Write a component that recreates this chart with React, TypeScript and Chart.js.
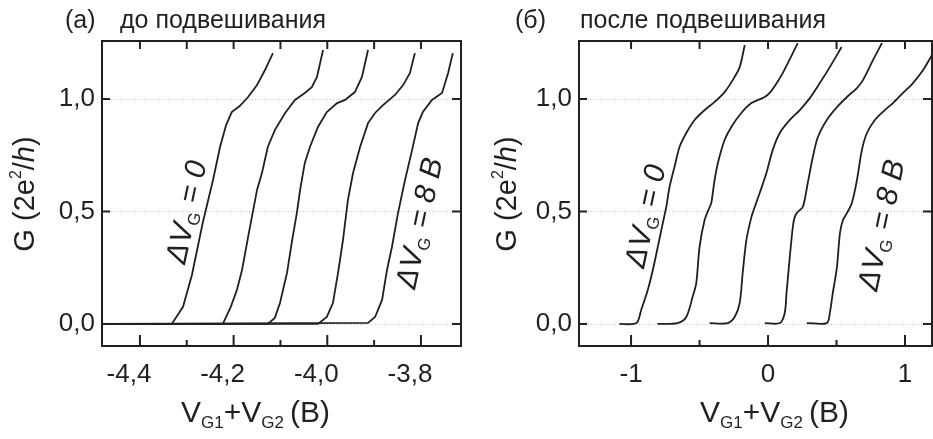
import React, { useEffect, useRef } from 'react';
import { Chart, registerables } from 'chart.js';

Chart.register(...registerables);

// ---------- data: panel (а) до подвешивания ----------
const A1_X = [-4.48, -4.332, -4.308, -4.289, -4.266, -4.244, -4.229, -4.216, -4.204, -4.187, -4.169, -4.150, -4.133, -4.116];
const A1_Y = [0, 0, 0.076, 0.218, 0.449, 0.640, 0.787, 0.884, 0.942, 0.969, 1.009, 1.062, 1.129, 1.204];
const A2_X = [-4.48, -4.223, -4.206, -4.193, -4.182, -4.169, -4.150, -4.1395, -4.127, -4.112, -4.090, -4.069, -4.048, -4.033, -4.022, -4.009];
const A2_Y = [0, 0, 0.076, 0.151, 0.240, 0.387, 0.596, 0.671, 0.787, 0.862, 0.938, 0.996, 1.027, 1.053, 1.098, 1.218];
const A3_X = [-4.48, -4.127, -4.112, -4.101, -4.086, -4.075, -4.065, -4.058, -4.048, -4.037, -4.020, -4.001, -3.979, -3.962, -3.941, -3.926, -3.913];
const A3_Y = [0, 0, 0.027, 0.093, 0.227, 0.373, 0.493, 0.596, 0.716, 0.787, 0.876, 0.942, 0.982, 0.996, 1.031, 1.098, 1.218];
const A4_X = [-4.48, -4.020, -4.001, -3.988, -3.977, -3.9665, -3.956, -3.945, -3.930, -3.913, -3.898, -3.881, -3.8555, -3.838, -3.8235, -3.813];
const A4_Y = [0, 0, 0.031, 0.093, 0.227, 0.373, 0.551, 0.671, 0.787, 0.893, 0.938, 0.973, 1.018, 1.062, 1.116, 1.204];
const A5_X = [-4.48, -3.913, -3.898, -3.883, -3.8725, -3.862, -3.849, -3.834, -3.819, -3.806, -3.796, -3.7765, -3.755, -3.742, -3.732];
const A5_Y = [0, 0.005, 0.031, 0.107, 0.240, 0.342, 0.493, 0.640, 0.773, 0.893, 0.942, 0.996, 1.027, 1.116, 1.204];

// ---------- data: panel (б) после подвешивания ----------
const B1_X = [-1.085, -0.961, -0.926, -0.878, -0.841, -0.805, -0.768, -0.743, -0.719, -0.683, -0.646, -0.597, -0.536, -0.463, -0.390, -0.317, -0.258, -0.207, -0.170];
const B1_Y = [0, 0.004, 0.062, 0.151, 0.240, 0.342, 0.449, 0.520, 0.609, 0.698, 0.787, 0.849, 0.907, 0.951, 0.987, 1.031, 1.084, 1.142, 1.240];
const B2_X = [-0.807, -0.661, -0.597, -0.551, -0.524, -0.500, -0.463, -0.426, -0.414, -0.390, -0.366, -0.317, -0.268, -0.195, -0.121, -0.024, 0.012, 0.064, 0.108, 0.181, 0.217];
const B2_Y = [0, 0.004, 0.031, 0.120, 0.182, 0.342, 0.462, 0.520, 0.538, 0.640, 0.716, 0.818, 0.876, 0.938, 0.982, 1.009, 1.027, 1.071, 1.116, 1.204, 1.249];
const B3_X = [-0.4265, -0.295, -0.244, -0.207, -0.185, -0.158, -0.121, -0.097, -0.061, -0.012, 0.034, 0.086, 0.159, 0.232, 0.305, 0.378, 0.451, 0.537];
const B3_Y = [0.004, 0.004, 0.031, 0.093, 0.227, 0.373, 0.476, 0.520, 0.582, 0.671, 0.773, 0.849, 0.907, 0.951, 1.004, 1.071, 1.142, 1.231];
const B4_X = [-0.024, 0.086, 0.122, 0.135, 0.159, 0.181, 0.195, 0.217, 0.254, 0.290, 0.327, 0.364, 0.429, 0.503, 0.576, 0.649, 0.693, 0.766, 0.832];
const B4_Y = [0.004, 0.004, 0.049, 0.138, 0.298, 0.431, 0.476, 0.498, 0.520, 0.627, 0.742, 0.831, 0.907, 0.964, 1.009, 1.049, 1.084, 1.173, 1.249];
const B5_X = [0.283, 0.429, 0.451, 0.473, 0.503, 0.525, 0.547, 0.576, 0.612, 0.649, 0.685, 0.722, 0.780, 0.853, 0.912, 0.985, 1.058, 1.132, 1.197];
const B5_Y = [0.004, 0.004, 0.049, 0.138, 0.253, 0.404, 0.462, 0.493, 0.538, 0.640, 0.773, 0.849, 0.907, 0.951, 0.982, 1.027, 1.071, 1.129, 1.196];

// ---------- ticks ----------
const A_X_TICKS = [-4.4, -4.2, -4.0, -3.8];
const A_X_LABELS = ['-4,4', '-4,2', '-4,0', '-3,8'];
const A_X_MINOR = [-4.3, -4.1, -3.9];
const B_X_TICKS = [-1, 0, 1];
const B_X_LABELS = ['-1', '0', '1'];
const B_X_MINOR = [-0.5, 0.5];
const Y_TICKS = [0, 0.5, 1.0];
const Y_LABELS = ['0,0', '0,5', '1,0'];

const FONT = '"Liberation Sans", Arial, Helvetica, sans-serif';
const INK = '#231f20';

type Part = { t: string; size: number; italic?: boolean; dy?: number };

function fontOf(p: Part) {
  return `${p.italic ? 'italic ' : ''}${p.size}px ${FONT}`;
}
function partsWidth(ctx: CanvasRenderingContext2D, parts: Part[]) {
  let w = 0;
  for (const p of parts) {
    ctx.font = fontOf(p);
    w += ctx.measureText(p.t).width;
  }
  return w;
}
function drawParts(ctx: CanvasRenderingContext2D, parts: Part[], x: number, y: number) {
  let cx = x;
  ctx.textBaseline = 'alphabetic';
  ctx.textAlign = 'left';
  for (const p of parts) {
    ctx.font = fontOf(p);
    ctx.fillText(p.t, cx, y + (p.dy || 0));
    cx += ctx.measureText(p.t).width;
  }
}

type PanelCfg = {
  offsetX: number;
  width: number;
  yAxisWidth: number;
  padRight: number;
  xMin: number;
  xMax: number;
  xTicks: number[];
  xLabels: string[];
  xMinor: number[];
  labelOffset: number;
  series: [number[], number[]][];
  tension: number;
  label: string;
  labelX: number;
  heading: string;
  headingX: number;
  yTitleX: number;
  xTitleX: number;
  annots: { cx: number; cy: number; tail: string }[];
};

const PANELS: PanelCfg[] = [
  {
    offsetX: 0,
    width: 470,
    yAxisWidth: 102,
    padRight: 9,
    xMin: -4.481,
    xMax: -3.7145,
    xTicks: A_X_TICKS,
    xLabels: A_X_LABELS,
    xMinor: A_X_MINOR,
    labelOffset: -11,
    series: [[A1_X, A1_Y], [A2_X, A2_Y], [A3_X, A3_Y], [A4_X, A4_Y], [A5_X, A5_Y]],
    tension: 0,
    label: '(а)',
    labelX: 65,
    heading: 'до подвешивания',
    headingX: 120,
    yTitleX: 34,
    xTitleX: 181,
    annots: [
      { cx: 186, cy: 212, tail: '0' },
      { cx: 419, cy: 223, tail: '8 В' },
    ],
  },
  {
    offsetX: 470,
    width: 463,
    yAxisWidth: 109,
    padRight: 1,
    xMin: -1.38,
    xMax: 1.197,
    xTicks: B_X_TICKS,
    xLabels: B_X_LABELS,
    xMinor: B_X_MINOR,
    labelOffset: 0,
    series: [[B1_X, B1_Y], [B2_X, B2_Y], [B3_X, B3_Y], [B4_X, B4_Y], [B5_X, B5_Y]],
    tension: 0.3,
    label: '(б)',
    labelX: 515,
    heading: 'после подвешивания',
    headingX: 580,
    yTitleX: 516,
    xTitleX: 700,
    annots: [
      { cx: 645, cy: 216, tail: '0' },
      { cx: 881, cy: 225, tail: '8 В' },
    ],
  },
];

function makeDecor(cfg: PanelCfg) {
  return {
    id: 'decor' + cfg.offsetX,
    beforeDatasetsDraw(chart: any) {
      const ctx: CanvasRenderingContext2D = chart.ctx;
      const { left, right } = chart.chartArea;
      const ys = chart.scales.y;
      ctx.save();
      ctx.strokeStyle = '#c4c4c4';
      ctx.lineWidth = 1;
      ctx.setLineDash([1, 2]);
      for (const v of Y_TICKS) {
        const py = Math.round(ys.getPixelForValue(v)) + 0.5;
        ctx.beginPath();
        ctx.moveTo(left, py);
        ctx.lineTo(right, py);
        ctx.stroke();
      }
      ctx.restore();
    },
    afterDraw(chart: any) {
      const ctx: CanvasRenderingContext2D = chart.ctx;
      const { left, right, top, bottom } = chart.chartArea;
      const xs = chart.scales.x;
      const ys = chart.scales.y;
      ctx.save();
      ctx.strokeStyle = INK;
      ctx.fillStyle = INK;
      ctx.lineWidth = 2;
      ctx.setLineDash([]);
      ctx.strokeRect(left, top, right - left, bottom - top);
      const line = (x1: number, y1: number, x2: number, y2: number) => {
        ctx.beginPath();
        ctx.moveTo(x1, y1);
        ctx.lineTo(x2, y2);
        ctx.stroke();
      };
      for (const v of cfg.xTicks) {
        const px = xs.getPixelForValue(v);
        line(px, bottom, px, bottom - 11);
        line(px, top, px, top + 8);
      }
      for (const v of cfg.xMinor) {
        const px = xs.getPixelForValue(v);
        line(px, bottom, px, bottom - 6);
        line(px, top, px, top + 8);
      }
      for (const v of Y_TICKS) {
        const py = ys.getPixelForValue(v);
        line(left, py, left + 8, py);
        line(right, py, right - 9, py);
      }

      // texts in page coordinates
      ctx.translate(-cfg.offsetX, 0);
      // heading
      ctx.font = `25px ${FONT}`;
      ctx.textBaseline = 'alphabetic';
      ctx.textAlign = 'left';
      ctx.fillText(cfg.label, cfg.labelX, 28);
      ctx.fillText(cfg.heading, cfg.headingX, 28);

      // y title
      const yParts: Part[] = [
        { t: 'G', size: 29 },
        { t: ' (2e', size: 29 },
        { t: '2', size: 16, dy: -13 },
        { t: '/', size: 29 },
        { t: 'h', size: 29, italic: true },
        { t: ')', size: 29 },
      ];
      ctx.save();
      ctx.translate(cfg.yTitleX, 194);
      ctx.rotate(-Math.PI / 2);
      const yw = partsWidth(ctx, yParts);
      drawParts(ctx, yParts, -yw / 2, 0);
      ctx.restore();

      // x title
      const xParts: Part[] = [
        { t: 'V', size: 30 },
        { t: 'G1', size: 17, dy: 6 },
        { t: '+', size: 30 },
        { t: 'V', size: 30 },
        { t: 'G2', size: 17, dy: 6 },
        { t: '\u2009(В)', size: 30 },
      ];
      drawParts(ctx, xParts, cfg.xTitleX, 422);

      // annotations
      for (const a of cfg.annots) {
        const parts: Part[] = [
          { t: 'ΔV', size: 30, italic: true },
          { t: 'G', size: 17, dy: 5 },
          { t: ' = ' + a.tail, size: 30, italic: true },
        ];
        ctx.save();
        ctx.translate(a.cx, a.cy);
        ctx.rotate((-78 * Math.PI) / 180);
        const w = partsWidth(ctx, parts);
        drawParts(ctx, parts, -w / 2, 10);
        ctx.restore();
      }
      ctx.restore();
    },
  };
}

function Panel({ cfg }: { cfg: PanelCfg }) {
  const ref = useRef<HTMLCanvasElement>(null);
  useEffect(() => {
    if (!ref.current) return;
    const chart = new Chart(ref.current, {
      type: 'line',
      data: {
        datasets: cfg.series.map(([xs, ys]) => ({
          data: xs.map((x, i) => ({ x, y: ys[i] })),
          borderColor: INK,
          borderWidth: 1.8,
          pointRadius: 0,
          fill: false,
          tension: cfg.tension,
        })),
      },
      options: {
        animation: false,
        responsive: false,
        devicePixelRatio: 1,
        layout: { padding: { left: 0, top: 41, right: cfg.padRight, bottom: 0 } },
        plugins: { legend: { display: false }, tooltip: { enabled: false }, title: { display: false } },
        scales: {
          x: {
            type: 'linear',
            position: 'bottom',
            min: cfg.xMin,
            max: cfg.xMax,
            afterBuildTicks: (s: any) => {
              s.ticks = cfg.xTicks.map((v) => ({ value: v }));
            },
            afterFit: (s: any) => {
              s.height = 93;
            },
            grid: { display: false, drawTicks: false },
            border: { display: false },
            ticks: {
              autoSkip: false,
              maxRotation: 0,
              padding: 13,
              labelOffset: cfg.labelOffset,
              color: INK,
              font: { family: FONT, size: 26 },
              callback: (_v: any, i: number) => cfg.xLabels[i],
            },
          },
          y: {
            type: 'linear',
            min: -0.098,
            max: 1.258,
            afterBuildTicks: (s: any) => {
              s.ticks = Y_TICKS.map((v) => ({ value: v }));
            },
            afterFit: (s: any) => {
              s.width = cfg.yAxisWidth;
            },
            grid: { display: false, drawTicks: false },
            border: { display: false },
            ticks: {
              padding: 7,
              color: INK,
              font: { family: FONT, size: 26 },
              callback: (_v: any, i: number) => Y_LABELS[i],
            },
          },
        },
      },
      plugins: [makeDecor(cfg)],
    } as any);
    return () => chart.destroy();
  }, [cfg]);
  return (
    <canvas
      ref={ref}
      width={cfg.width}
      height={439}
      style={{ position: 'absolute', left: cfg.offsetX, top: 0, width: cfg.width, height: 439 }}
    />
  );
}

export default function App() {
  return (
    <div style={{ position: 'fixed', left: 0, top: 0, width: 933, height: 439, background: '#fff', overflow: 'hidden' }}>
      {PANELS.map((p) => (
        <Panel key={p.offsetX} cfg={p} />
      ))}
    </div>
  );
}
